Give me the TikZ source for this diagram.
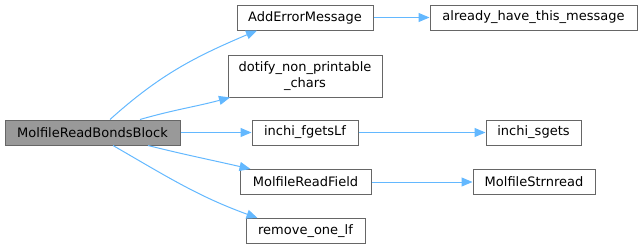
\documentclass[tikz,border=0pt]{standalone}
\usepackage{fontspec}
\setmainfont{DejaVu Sans}
\usetikzlibrary{positioning, arrows.meta, calc}
\definecolor{callee}{HTML}{FFFFFF}
\definecolor{calleeborder}{HTML}{666666}
\definecolor{caller}{HTML}{999999}
\definecolor{edgeblue}{HTML}{63B8FF}

\begin{document}
\begin{tikzpicture}[
    x=1pt, y=-1pt,
    >={Triangle[length=11pt, width=9pt]},
    fnbox/.style={draw=calleeborder, fill=callee, line width=1pt, inner sep=0pt,
                  minimum height=25pt, font=\fontsize{13}{15.5}\selectfont, align=center},
    mainbox/.style={fnbox, fill=caller},
    call/.style={->, draw=edgeblue, line width=1pt},
]
\useasboundingbox (0,0) rectangle (643,249);

% ============================================================
% caller (left)
% ============================================================
\node[mainbox, minimum width=175pt] (readbonds) at (92.5,132.5) {MolfileReadBondsBlock};

% ============================================================
% direct callees (middle column)
% ============================================================
\node[fnbox, minimum width=136pt] (adderr) at (305,17.5) {AddErrorMessage};
\node[fnbox, minimum width=154pt, minimum height=42pt] (dotify) at (305,76) {dotify\_non\_printable\\\_chars};
\node[fnbox, minimum width=106pt] (fgetslf) at (305,132.5) {inchi\_fgetsLf};
\node[fnbox, minimum width=131pt] (readfield) at (305.5,182) {MolfileReadField};
\node[fnbox, minimum width=119pt] (removelf) at (305.5,231) {remove\_one\_lf};

% ============================================================
% second level callees (right column)
% ============================================================
\node[fnbox, minimum width=207pt] (already) at (533.5,17.5) {already\_have\_this\_message};
\node[fnbox, minimum width=95pt] (sgets) at (533.5,132.5) {inchi\_sgets};
\node[fnbox, minimum width=122pt] (strnread) at (534,182) {MolfileStrnread};

% calls from the caller
\draw[call] ([xshift=17.5pt]readbonds.north) to[out=42, in=203] ([xshift=-48pt]adderr.south);
\draw[call] ([xshift=47.5pt]readbonds.north) to[out=16, in=195] ([xshift=-75pt]dotify.south);
\draw[call] (readbonds) -- (fgetslf);
\draw[call] ([xshift=55.5pt]readbonds.south) to[out=-14, in=167] ([xshift=-55pt]readfield.north);
\draw[call] ([xshift=20.5pt]readbonds.south) to[out=-30, in=160] ([xshift=-48pt]removelf.north);

% second level calls
\draw[call] (adderr) -- (already);
\draw[call] (fgetslf) -- (sgets);
\draw[call] (readfield) -- (strnread);

\end{tikzpicture}
\end{document}
